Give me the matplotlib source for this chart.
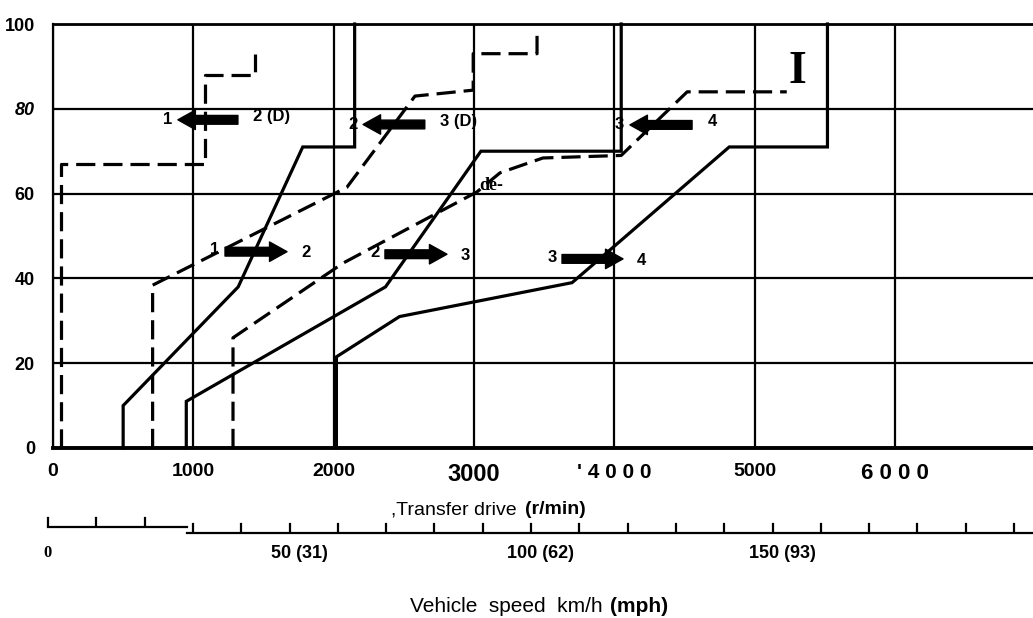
import matplotlib
matplotlib.use("Agg")
import matplotlib.pyplot as plt

# ---------------- data ----------------
x_ticks = [0, 1000, 2000, 3000, 4000, 5000, 6000]
x_tick_labels = ["0", "1000", "2000", "3000", "' 4 0 0 0", "5000", "6 0 0 0"]
y_ticks = [0, 20, 40, 60, 80, 100]
y_tick_labels = ["0", "20", "40", "60", "80", "100"]

# upshift lines (solid)  rpm / throttle %
up12_rpm = [500, 500, 1320, 1780, 2150, 2150]
up12_pct = [0, 10, 38, 71, 71, 100]
up23_rpm = [950, 950, 2370, 3050, 4050, 4050]
up23_pct = [0, 11, 38, 70, 70, 100]
up34_rpm = [2020, 2020, 2470, 3700, 4820, 5520, 5520]
up34_pct = [0, 21.5, 31, 39, 71, 71, 100]

# downshift lines (dashed)
downD_rpm = [60, 60, 1080, 1080, 1440, 1440]
downD_pct = [0, 67, 67, 88, 88, 93]
down21_rpm = [710, 710, 2095, 2580, 2995, 2995, 3450, 3450]
down21_pct = [0, 38.4, 61.5, 83, 84.4, 93, 93, 99]
down32_rpm = [1283, 1283, 2067, 3022, 3186, 3492, 4050, 4520, 5230]
down32_pct = [0, 26, 43.6, 60.4, 64.9, 68.4, 69, 84, 84]

# shift arrows: left label, right label, tail rpm, head rpm, throttle %
up_arrows = [("1", "2", 1226, 1668, 46.3),
             ("2", "3", 2366, 2808, 45.7),
             ("3", "4", 3628, 4063, 44.6)]
down_arrows = [("1", "2 (D)", 1318, 890, 77.4),
               ("2", "3 (D)", 2650, 2210, 76.3),
               ("3", "4", 4555, 4112, 76.2)]

# vehicle speed scale (km/h)
speed_ticks = list(range(0, 201, 10))
speed_labels = {0: "0", 50: "50 (31)", 100: "100 (62)", 150: "150 (93)"}

# ---------------- figure ----------------
W, H = 1033, 618
fig = plt.figure(figsize=(W / 100, H / 100), dpi=100)
fig.patch.set_facecolor("white")
sans = "Liberation Sans"
serif = "Liberation Serif"

x0px, x1px, y0px, y1px = 53, 1033, 448, 24
ax = fig.add_axes([x0px / W, 1 - y0px / H, (x1px - x0px) / W, (y0px - y1px) / H])
ax.set_xlim(0, (x1px - x0px) / 0.1403)
ax.set_ylim(0, 100)

ax.set_xticks(x_ticks)
ax.set_xticklabels(x_tick_labels)
ax.set_yticks(y_ticks)
ax.set_yticklabels(y_tick_labels)
ax.grid(True, color="black", lw=1.6)
ax.tick_params(length=0)
ax.tick_params(axis="x", pad=11)
ax.tick_params(axis="y", pad=13)
for lab in ax.get_xticklabels():
    lab.set_fontfamily(sans)
    lab.set_fontweight("bold")
    lab.set_fontsize(14)
ax.get_xticklabels()[3].set_fontsize(17)
ax.get_xticklabels()[4].set_fontsize(15)
ax.get_xticklabels()[6].set_fontsize(16)
for lab in ax.get_yticklabels():
    lab.set_fontfamily(sans)
    lab.set_fontweight("bold")
    lab.set_fontsize(13)
ax.get_yticklabels()[4].set_fontstyle("italic")

ax.spines["right"].set_visible(False)
ax.spines["left"].set_linewidth(1.6)
ax.spines["top"].set_linewidth(2.0)
ax.spines["bottom"].set_linewidth(2.8)

lw = 2.3
for xs, ys in [(up12_rpm, up12_pct), (up23_rpm, up23_pct), (up34_rpm, up34_pct)]:
    ax.plot(xs, ys, color="black", lw=lw, solid_joinstyle="miter", clip_on=False, zorder=3)
for xs, ys in [(downD_rpm, downD_pct), (down21_rpm, down21_pct), (down32_rpm, down32_pct)]:
    ax.plot(xs, ys, color="black", lw=lw, linestyle=(0, (6, 2.5)), clip_on=False, zorder=3)

astyle = dict(arrowstyle="simple,head_length=0.9,head_width=1.0,tail_width=0.45",
              color="black", shrinkA=0, shrinkB=0, mutation_scale=14)
lab_kw = dict(fontfamily=sans, fontweight="bold", fontsize=12, va="center", zorder=4)
for left, right, tail, head, y in up_arrows:
    ax.annotate("", xy=(head, y), xytext=(tail, y), arrowprops=astyle, zorder=4)
    ax.text(tail - 40, y + 0.4, left, ha="right", **lab_kw)
    ax.text(head + 100, y - 0.3, right, ha="left", **lab_kw)
for left, right, tail, head, y in down_arrows:
    ax.annotate("", xy=(head, y), xytext=(tail, y), arrowprops=astyle, zorder=4)
    ax.text(head - 40, y, left, ha="right", **lab_kw)
    ax.text(tail + 110, y + 0.8, right, ha="left", **lab_kw)

ax.text(5303, 88.7, "I", fontfamily=serif, fontweight="bold", fontsize=33,
        ha="center", va="center", zorder=4)
ax.text(3122, 62, "de-", fontfamily=serif, fontweight="bold", fontsize=13,
        ha="center", va="center", zorder=4)

# axis title for rpm
fig.text(522 / W, 1 - 510 / H, ",Transfer drive ", fontfamily=sans, fontsize=14,
         ha="right", va="center")
fig.text(525 / W, 1 - 510 / H, "(r/min)", fontfamily=sans, fontsize=14,
         fontweight="bold", ha="left", va="center")

# ---------------- vehicle speed scale ----------------
ax2 = fig.add_axes([48 / W, 1 - 600 / H, (W - 48) / W, 110 / H])
ax2.set_xlim(0, (W - 48) / 4.83)
ax2.set_ylim(600, 490)
ax2.axis("off")
step_kmh = (187 - 48) / 4.83
ax2.plot([0, step_kmh], [527, 527], color="black", lw=1.6, clip_on=False)
ax2.plot([step_kmh, (W - 48) / 4.83], [533, 533], color="black", lw=1.6, clip_on=False)
for k in speed_ticks:
    base = 527 if k < step_kmh else 533
    ax2.plot([k, k], [base - 9, base - 1], color="black", lw=1.6, clip_on=False)
for k, txt in speed_labels.items():
    if k == 0:
        ax2.text(k, 553, txt, fontfamily=serif, fontweight="bold", fontsize=12,
                 ha="center", va="center")
    else:
        ax2.text(k + 2, 554, txt, fontfamily=sans, fontweight="bold", fontsize=13,
                 ha="center", va="center")

fig.text(543 / W, 1 - 607 / H, "Vehicle  speed  km/h  ", fontfamily=sans, fontsize=15,
         ha="right", va="center", x=(603 / W)) if False else None
t1 = fig.text(608 / W, 1 - 607 / H, "Vehicle  speed  km/h ", fontfamily=sans, fontsize=15,
              ha="right", va="center")
t2 = fig.text(610 / W, 1 - 607 / H, "(mph)", fontfamily=sans, fontsize=15,
              fontweight="bold", ha="left", va="center")

fig.savefig("out.png", dpi=100, facecolor="white")
